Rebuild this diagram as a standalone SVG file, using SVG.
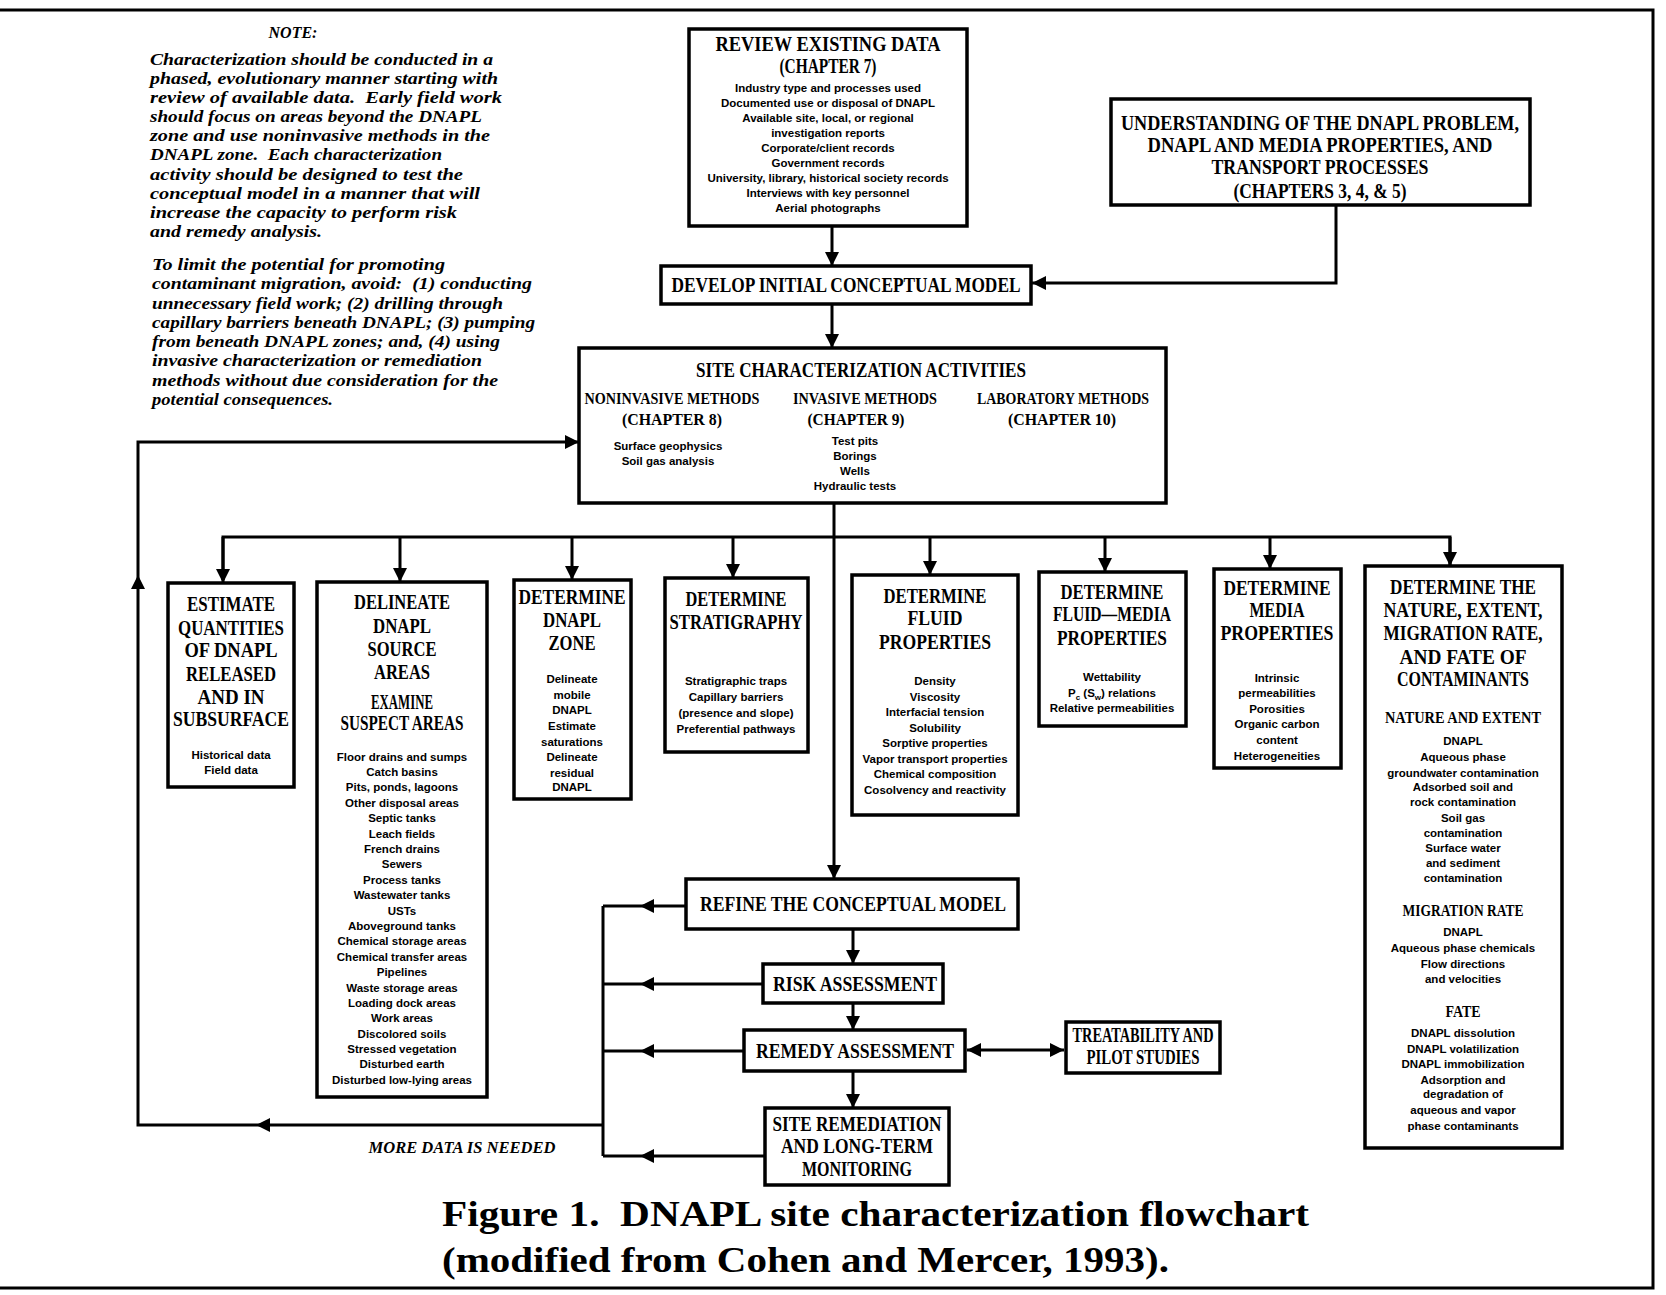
<svg xmlns="http://www.w3.org/2000/svg" width="1666" height="1295" viewBox="0 0 1666 1295">
<style>
.bx{fill:#fff;stroke:#000;stroke-width:3.5}
.ln{fill:none;stroke:#000;stroke-width:3}
.t{font-family:"Liberation Serif",serif;font-weight:bold;font-size:21px;text-anchor:middle;fill:#000}
.h{font-family:"Liberation Serif",serif;font-weight:bold;font-size:16px;text-anchor:middle;fill:#000}
.s{font-family:"Liberation Sans",sans-serif;font-weight:bold;font-size:11.5px;text-anchor:middle;fill:#000}
.n{font-family:"Liberation Serif",serif;font-weight:bold;font-style:italic;font-size:16px;fill:#000}
.cap{font-family:"Liberation Serif",serif;font-weight:bold;font-size:35px;fill:#000}
</style>
<defs>
<marker id="ah" viewBox="0 0 10 10" refX="10" refY="5" markerWidth="14" markerHeight="14" markerUnits="userSpaceOnUse" orient="auto-start-reverse">
<path d="M0,0 L10,5 L0,10 z" fill="#000"/>
</marker>
</defs>
<rect width="1666" height="1295" fill="#fff"/>
<g id="frame" fill="none" stroke="#000" stroke-width="3">
<path d="M0,10 H1653 V1288 H0"/>
</g>

<g id="note">
<text class="n" x="293" y="38" text-anchor="middle" font-size="17">NOTE:</text>
<text class="n" x="150" y="65" textLength="343" lengthAdjust="spacingAndGlyphs">Characterization should be conducted in a</text>
<text class="n" x="150" y="84" textLength="348" lengthAdjust="spacingAndGlyphs">phased, evolutionary manner starting with</text>
<text class="n" x="150" y="103" textLength="352" lengthAdjust="spacingAndGlyphs">review of available data.&#160; Early field work</text>
<text class="n" x="150" y="122" textLength="332" lengthAdjust="spacingAndGlyphs">should focus on areas beyond the DNAPL</text>
<text class="n" x="150" y="141" textLength="340" lengthAdjust="spacingAndGlyphs">zone and use noninvasive methods in the</text>
<text class="n" x="150" y="160" textLength="292" lengthAdjust="spacingAndGlyphs">DNAPL zone.&#160; Each characterization</text>
<text class="n" x="150" y="180" textLength="313" lengthAdjust="spacingAndGlyphs">activity should be designed to test the</text>
<text class="n" x="150" y="199" textLength="330" lengthAdjust="spacingAndGlyphs">conceptual model in a manner that will</text>
<text class="n" x="150" y="218" textLength="307" lengthAdjust="spacingAndGlyphs">increase the capacity to perform risk</text>
<text class="n" x="150" y="237" textLength="172" lengthAdjust="spacingAndGlyphs">and remedy analysis.</text>
<text class="n" x="152" y="270" textLength="293" lengthAdjust="spacingAndGlyphs">To limit the potential for promoting</text>
<text class="n" x="152" y="289" textLength="380" lengthAdjust="spacingAndGlyphs">contaminant migration, avoid:&#160; (1) conducting</text>
<text class="n" x="152" y="309" textLength="351" lengthAdjust="spacingAndGlyphs">unnecessary field work; (2) drilling through</text>
<text class="n" x="152" y="328" textLength="383" lengthAdjust="spacingAndGlyphs">capillary barriers beneath DNAPL; (3) pumping</text>
<text class="n" x="152" y="347" textLength="348" lengthAdjust="spacingAndGlyphs">from beneath DNAPL zones; and, (4) using</text>
<text class="n" x="152" y="366" textLength="330" lengthAdjust="spacingAndGlyphs">invasive characterization or remediation</text>
<text class="n" x="152" y="386" textLength="346" lengthAdjust="spacingAndGlyphs">methods without due consideration for the</text>
<text class="n" x="152" y="405" textLength="181" lengthAdjust="spacingAndGlyphs">potential consequences.</text>
</g>

<g id="connectors">
<line class="ln" x1="832" y1="226" x2="832" y2="266" marker-end="url(#ah)"/>
<polyline class="ln" points="1336,205 1336,283 1032,283" marker-end="url(#ah)"/>
<line class="ln" x1="832" y1="304" x2="832" y2="348" marker-end="url(#ah)"/>
<line class="ln" x1="834" y1="503" x2="834" y2="879" marker-end="url(#ah)"/>
<polyline class="ln" points="223,580 223,537 1450,537 1450,566"/>
<line class="ln" x1="223" y1="537" x2="223" y2="583" marker-end="url(#ah)"/>
<line class="ln" x1="400" y1="537" x2="400" y2="582" marker-end="url(#ah)"/>
<line class="ln" x1="572" y1="537" x2="572" y2="580" marker-end="url(#ah)"/>
<line class="ln" x1="733" y1="537" x2="733" y2="578" marker-end="url(#ah)"/>
<line class="ln" x1="930" y1="537" x2="930" y2="575" marker-end="url(#ah)"/>
<line class="ln" x1="1105" y1="537" x2="1105" y2="572" marker-end="url(#ah)"/>
<line class="ln" x1="1270" y1="537" x2="1270" y2="569" marker-end="url(#ah)"/>
<line class="ln" x1="1450" y1="537" x2="1450" y2="566" marker-end="url(#ah)"/>
<line class="ln" x1="853" y1="929" x2="853" y2="964" marker-end="url(#ah)"/>
<line class="ln" x1="853" y1="1003" x2="853" y2="1030" marker-end="url(#ah)"/>
<line class="ln" x1="853" y1="1071" x2="853" y2="1108" marker-end="url(#ah)"/>
<line class="ln" x1="967" y1="1050" x2="1064" y2="1050" marker-start="url(#ah)" marker-end="url(#ah)"/>
<path class="ln" d="M686,906 H603 M763,984 H603 M744,1051 H603 M765,1156 H603 M603,906 V1156"/>
<path d="M640,906 l14,-7 v14 z M640,984 l14,-7 v14 z M640,1051 l14,-7 v14 z M640,1156 l14,-7 v14 z" fill="#000"/>
<polyline class="ln" points="603,1125 138,1125 138,442 579,442" marker-end="url(#ah)"/>
<path d="M256,1125 l14,-7 v14 z M138,575 l-7,14 h14 z" fill="#000"/>
<text class="n" x="462" y="1153" text-anchor="middle" font-size="15" textLength="187" lengthAdjust="spacingAndGlyphs">MORE DATA IS NEEDED</text>
</g>

<g id="review">
<rect class="bx" x="689" y="29" width="278" height="197"/>
<text class="t" x="828" y="51" font-size="20" textLength="225" lengthAdjust="spacingAndGlyphs">REVIEW EXISTING DATA</text>
<text class="t" x="828" y="73" font-size="16" textLength="97" lengthAdjust="spacingAndGlyphs">(CHAPTER 7)</text>
<text class="s" x="828" y="92" font-size="11">Industry type and processes used</text>
<text class="s" x="828" y="107" font-size="11">Documented use or disposal of DNAPL</text>
<text class="s" x="828" y="122" font-size="11">Available site, local, or regional</text>
<text class="s" x="828" y="137" font-size="11">investigation reports</text>
<text class="s" x="828" y="152" font-size="11">Corporate/client records</text>
<text class="s" x="828" y="167" font-size="11">Government records</text>
<text class="s" x="828" y="182" font-size="11">University, library, historical society records</text>
<text class="s" x="828" y="197" font-size="11">Interviews with key personnel</text>
<text class="s" x="828" y="212" font-size="11">Aerial photographs</text>
</g>

<g id="understanding">
<rect class="bx" x="1111" y="99" width="419" height="106"/>
<text class="t" x="1320" y="130" font-size="19" textLength="398" lengthAdjust="spacingAndGlyphs">UNDERSTANDING OF THE DNAPL PROBLEM,</text>
<text class="t" x="1320" y="152" font-size="19" textLength="345" lengthAdjust="spacingAndGlyphs">DNAPL AND MEDIA PROPERTIES, AND</text>
<text class="t" x="1320" y="174" font-size="19" textLength="217" lengthAdjust="spacingAndGlyphs">TRANSPORT PROCESSES</text>
<text class="t" x="1320" y="198" font-size="17" textLength="173" lengthAdjust="spacingAndGlyphs">(CHAPTERS 3, 4, &amp; 5)</text>
</g>

<g id="develop">
<rect class="bx" x="661" y="266" width="370" height="38"/>
<text class="t" x="846" y="292" font-size="19" textLength="349" lengthAdjust="spacingAndGlyphs">DEVELOP INITIAL CONCEPTUAL MODEL</text>
</g>

<g id="sitechar">
<rect class="bx" x="579" y="348" width="587" height="155"/>
<text class="t" x="861" y="377" font-size="20" textLength="330" lengthAdjust="spacingAndGlyphs">SITE CHARACTERIZATION ACTIVITIES</text>
<text class="h" x="672" y="404" textLength="175" lengthAdjust="spacingAndGlyphs">NONINVASIVE METHODS</text>
<text class="h" x="672" y="425" textLength="100" lengthAdjust="spacingAndGlyphs">(CHAPTER 8)</text>
<text class="h" x="865" y="404" textLength="144" lengthAdjust="spacingAndGlyphs">INVASIVE METHODS</text>
<text class="h" x="856" y="425" textLength="97" lengthAdjust="spacingAndGlyphs">(CHAPTER 9)</text>
<text class="h" x="1063" y="404" textLength="172" lengthAdjust="spacingAndGlyphs">LABORATORY METHODS</text>
<text class="h" x="1062" y="425" textLength="108" lengthAdjust="spacingAndGlyphs">(CHAPTER 10)</text>
<text class="s" x="668" y="450">Surface geophysics</text>
<text class="s" x="668" y="465">Soil gas analysis</text>
<text class="s" x="855" y="445">Test pits</text>
<text class="s" x="855" y="460">Borings</text>
<text class="s" x="855" y="475">Wells</text>
<text class="s" x="855" y="490">Hydraulic tests</text>
</g>

<g id="estimate">
<rect class="bx" x="168" y="583" width="126" height="204"/>
<text class="t" x="231" y="611" textLength="88" lengthAdjust="spacingAndGlyphs">ESTIMATE</text>
<text class="t" x="231" y="635" textLength="106" lengthAdjust="spacingAndGlyphs">QUANTITIES</text>
<text class="t" x="231" y="657" textLength="93" lengthAdjust="spacingAndGlyphs">OF DNAPL</text>
<text class="t" x="231" y="681" textLength="90" lengthAdjust="spacingAndGlyphs">RELEASED</text>
<text class="t" x="231" y="704" textLength="67" lengthAdjust="spacingAndGlyphs">AND IN</text>
<text class="t" x="231" y="726" textLength="116" lengthAdjust="spacingAndGlyphs">SUBSURFACE</text>
<text class="s" x="231" y="759">Historical data</text>
<text class="s" x="231" y="774">Field data</text>
</g>

<g id="delineate">
<rect class="bx" x="317" y="582" width="170" height="515"/>
<text class="t" x="402" y="609" textLength="96" lengthAdjust="spacingAndGlyphs">DELINEATE</text>
<text class="t" x="402" y="633" textLength="58" lengthAdjust="spacingAndGlyphs">DNAPL</text>
<text class="t" x="402" y="656" textLength="69" lengthAdjust="spacingAndGlyphs">SOURCE</text>
<text class="t" x="402" y="679" textLength="56" lengthAdjust="spacingAndGlyphs">AREAS</text>
<text class="t" x="402" y="709" font-size="18" textLength="62" lengthAdjust="spacingAndGlyphs">EXAMINE</text>
<text class="t" x="402" y="730" font-size="18" textLength="123" lengthAdjust="spacingAndGlyphs">SUSPECT AREAS</text>
<text class="s" x="402" y="761">Floor drains and sumps</text>
<text class="s" x="402" y="776">Catch basins</text>
<text class="s" x="402" y="791">Pits, ponds, lagoons</text>
<text class="s" x="402" y="807">Other disposal areas</text>
<text class="s" x="402" y="822">Septic tanks</text>
<text class="s" x="402" y="838">Leach fields</text>
<text class="s" x="402" y="853">French drains</text>
<text class="s" x="402" y="868">Sewers</text>
<text class="s" x="402" y="884">Process tanks</text>
<text class="s" x="402" y="899">Wastewater tanks</text>
<text class="s" x="402" y="915">USTs</text>
<text class="s" x="402" y="930">Aboveground tanks</text>
<text class="s" x="402" y="945">Chemical storage areas</text>
<text class="s" x="402" y="961">Chemical transfer areas</text>
<text class="s" x="402" y="976">Pipelines</text>
<text class="s" x="402" y="992">Waste storage areas</text>
<text class="s" x="402" y="1007">Loading dock areas</text>
<text class="s" x="402" y="1022">Work areas</text>
<text class="s" x="402" y="1038">Discolored soils</text>
<text class="s" x="402" y="1053">Stressed vegetation</text>
<text class="s" x="402" y="1068">Disturbed earth</text>
<text class="s" x="402" y="1084">Disturbed low-lying areas</text>
</g>

<g id="dnaplzone">
<rect class="bx" x="514" y="580" width="117" height="219"/>
<text class="t" x="572" y="604" textLength="107" lengthAdjust="spacingAndGlyphs">DETERMINE</text>
<text class="t" x="572" y="627" textLength="58" lengthAdjust="spacingAndGlyphs">DNAPL</text>
<text class="t" x="572" y="650" textLength="47" lengthAdjust="spacingAndGlyphs">ZONE</text>
<text class="s" x="572" y="683">Delineate</text>
<text class="s" x="572" y="699">mobile</text>
<text class="s" x="572" y="714">DNAPL</text>
<text class="s" x="572" y="730">Estimate</text>
<text class="s" x="572" y="746">saturations</text>
<text class="s" x="572" y="761">Delineate</text>
<text class="s" x="572" y="777">residual</text>
<text class="s" x="572" y="791">DNAPL</text>
</g>

<g id="stratigraphy">
<rect class="bx" x="665" y="578" width="143" height="174"/>
<text class="t" x="736" y="606" textLength="101" lengthAdjust="spacingAndGlyphs">DETERMINE</text>
<text class="t" x="736" y="629" textLength="133" lengthAdjust="spacingAndGlyphs">STRATIGRAPHY</text>
<text class="s" x="736" y="685">Stratigraphic traps</text>
<text class="s" x="736" y="701">Capillary barriers</text>
<text class="s" x="736" y="717">(presence and slope)</text>
<text class="s" x="736" y="733">Preferential pathways</text>
</g>

<g id="fluid">
<rect class="bx" x="852" y="575" width="166" height="240"/>
<text class="t" x="935" y="603" textLength="103" lengthAdjust="spacingAndGlyphs">DETERMINE</text>
<text class="t" x="935" y="625" textLength="55" lengthAdjust="spacingAndGlyphs">FLUID</text>
<text class="t" x="935" y="649" textLength="112" lengthAdjust="spacingAndGlyphs">PROPERTIES</text>
<text class="s" x="935" y="685">Density</text>
<text class="s" x="935" y="701">Viscosity</text>
<text class="s" x="935" y="716">Interfacial tension</text>
<text class="s" x="935" y="732">Solubility</text>
<text class="s" x="935" y="747">Sorptive properties</text>
<text class="s" x="935" y="763">Vapor transport properties</text>
<text class="s" x="935" y="778">Chemical composition</text>
<text class="s" x="935" y="794">Cosolvency and reactivity</text>
</g>

<g id="fluidmedia">
<rect class="bx" x="1039" y="572" width="147" height="154"/>
<text class="t" x="1112" y="599" textLength="103" lengthAdjust="spacingAndGlyphs">DETERMINE</text>
<text class="t" x="1112" y="621" textLength="118" lengthAdjust="spacingAndGlyphs">FLUID—MEDIA</text>
<text class="t" x="1112" y="645" textLength="110" lengthAdjust="spacingAndGlyphs">PROPERTIES</text>
<text class="s" x="1112" y="681">Wettability</text>
<text class="s" x="1112" y="697">P<tspan font-size="8" dy="3">c</tspan><tspan dy="-3"> (S</tspan><tspan font-size="8" dy="3">w</tspan><tspan dy="-3">) relations</tspan></text>
<text class="s" x="1112" y="712">Relative permeabilities</text>
</g>

<g id="media">
<rect class="bx" x="1214" y="569" width="127" height="199"/>
<text class="t" x="1277" y="595" textLength="107" lengthAdjust="spacingAndGlyphs">DETERMINE</text>
<text class="t" x="1277" y="617" textLength="55" lengthAdjust="spacingAndGlyphs">MEDIA</text>
<text class="t" x="1277" y="640" textLength="113" lengthAdjust="spacingAndGlyphs">PROPERTIES</text>
<text class="s" x="1277" y="682">Intrinsic</text>
<text class="s" x="1277" y="697">permeabilities</text>
<text class="s" x="1277" y="713">Porosities</text>
<text class="s" x="1277" y="728">Organic carbon</text>
<text class="s" x="1277" y="744">content</text>
<text class="s" x="1277" y="760">Heterogeneities</text>
</g>

<g id="nature">
<rect class="bx" x="1365" y="566" width="197" height="582"/>
<text class="t" x="1463" y="594" textLength="146" lengthAdjust="spacingAndGlyphs">DETERMINE THE</text>
<text class="t" x="1463" y="617" textLength="159" lengthAdjust="spacingAndGlyphs">NATURE, EXTENT,</text>
<text class="t" x="1463" y="640" textLength="159" lengthAdjust="spacingAndGlyphs">MIGRATION RATE,</text>
<text class="t" x="1463" y="664" textLength="127" lengthAdjust="spacingAndGlyphs">AND FATE OF</text>
<text class="t" x="1463" y="686" textLength="132" lengthAdjust="spacingAndGlyphs">CONTAMINANTS</text>
<text class="h" x="1463" y="723" textLength="156" lengthAdjust="spacingAndGlyphs">NATURE AND EXTENT</text>
<text class="s" x="1463" y="745">DNAPL</text>
<text class="s" x="1463" y="761">Aqueous phase</text>
<text class="s" x="1463" y="777">groundwater contamination</text>
<text class="s" x="1463" y="791">Adsorbed soil and</text>
<text class="s" x="1463" y="806">rock contamination</text>
<text class="s" x="1463" y="822">Soil gas</text>
<text class="s" x="1463" y="837">contamination</text>
<text class="s" x="1463" y="852">Surface water</text>
<text class="s" x="1463" y="867">and sediment</text>
<text class="s" x="1463" y="882">contamination</text>
<text class="h" x="1463" y="916" textLength="121" lengthAdjust="spacingAndGlyphs">MIGRATION RATE</text>
<text class="s" x="1463" y="936">DNAPL</text>
<text class="s" x="1463" y="952">Aqueous phase chemicals</text>
<text class="s" x="1463" y="968">Flow directions</text>
<text class="s" x="1463" y="983">and velocities</text>
<text class="h" x="1463" y="1017" textLength="35" lengthAdjust="spacingAndGlyphs">FATE</text>
<text class="s" x="1463" y="1037">DNAPL dissolution</text>
<text class="s" x="1463" y="1053">DNAPL volatilization</text>
<text class="s" x="1463" y="1068">DNAPL immobilization</text>
<text class="s" x="1463" y="1084">Adsorption and</text>
<text class="s" x="1463" y="1098">degradation of</text>
<text class="s" x="1463" y="1114">aqueous and vapor</text>
<text class="s" x="1463" y="1130">phase contaminants</text>
</g>

<g id="refine">
<rect class="bx" x="686" y="879" width="332" height="50"/>
<text class="t" x="853" y="911" font-size="20" textLength="306" lengthAdjust="spacingAndGlyphs">REFINE THE CONCEPTUAL MODEL</text>
</g>

<g id="risk">
<rect class="bx" x="763" y="964" width="180" height="39"/>
<text class="t" x="855" y="991" font-size="20" textLength="164" lengthAdjust="spacingAndGlyphs">RISK ASSESSMENT</text>
</g>

<g id="remedy">
<rect class="bx" x="744" y="1030" width="221" height="41"/>
<text class="t" x="855" y="1058" font-size="20" textLength="198" lengthAdjust="spacingAndGlyphs">REMEDY ASSESSMENT</text>
</g>

<g id="treatability">
<rect class="bx" x="1066" y="1022" width="154" height="51"/>
<text class="t" x="1143" y="1042" font-size="16" textLength="141" lengthAdjust="spacingAndGlyphs">TREATABILITY AND</text>
<text class="t" x="1143" y="1064" font-size="16" textLength="113" lengthAdjust="spacingAndGlyphs">PILOT STUDIES</text>
</g>

<g id="siteremediation">
<rect class="bx" x="765" y="1108" width="184" height="77"/>
<text class="t" x="857" y="1131" font-size="19" textLength="169" lengthAdjust="spacingAndGlyphs">SITE REMEDIATION</text>
<text class="t" x="857" y="1153" font-size="19" textLength="152" lengthAdjust="spacingAndGlyphs">AND LONG-TERM</text>
<text class="t" x="857" y="1176" font-size="19" textLength="110" lengthAdjust="spacingAndGlyphs">MONITORING</text>
</g>

<g id="caption">
<text class="cap" x="442" y="1226" textLength="867" lengthAdjust="spacingAndGlyphs">Figure 1.&#160; DNAPL site characterization flowchart</text>
<text class="cap" x="442" y="1272" textLength="727" lengthAdjust="spacingAndGlyphs">(modified from Cohen and Mercer, 1993).</text>
</g>
</svg>
